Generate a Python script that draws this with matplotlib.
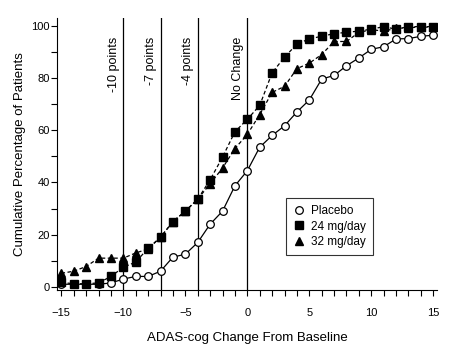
import matplotlib
matplotlib.use("Agg")
import matplotlib.pyplot as plt
import numpy as np

plt.rcParams['font.family'] = ['Liberation Sans', 'DejaVu Sans']

x = list(range(-15, 16))
placebo = [1, 1, 1, 1, 1.5, 3, 4, 4, 6, 11.4, 12.5, 17, 24, 29, 38.7, 44.5,
           53.5, 58, 61.7, 67, 71.6, 79.6, 81, 84.7, 87.7, 91, 92, 95, 95.1, 96, 96.4]
mg24 = [1.7, 1.2, 1.2, 1.5, 4, 7.5, 9.5, 14.8, 19, 25, 29, 33.6, 41, 49.7, 59.4, 64.2,
        69.5, 82, 88, 93, 95, 96, 97, 97.5, 98, 98.7, 99.7, 98.7, 99.7, 99.7, 99.7]
mg32 = [5.2, 6, 7.8, 11, 11, 11, 13, 14.5, 19, 25, 29, 33.6, 39.5, 45.5, 53, 58.4,
        66, 74.5, 76.8, 83.6, 85.7, 89, 94, 94, 97.5, 98.5, 98, 99, 99.3, 99.5, 99.5]

ref_lines = [-10, -7, -4, 0]
ref_labels = ['-10 points', '-7 points', '-4 points', 'No Change']

fig = plt.figure(figsize=(4.54, 3.5), dpi=100)
ax = fig.add_axes([57/454, 1-290/350, (437-57)/454, (290-18)/350])

for xv, lab in zip(ref_lines, ref_labels):
    ax.axvline(xv, color='black', lw=0.9, zorder=1)
    ax.text(xv - 0.3, 96, lab, rotation=90, ha='right', va='top', fontsize=9)

ax.plot(x, placebo, '-', color='black', lw=0.9, marker='o', ms=5.5,
        mfc='white', mec='black', mew=0.9, label='Placebo', zorder=3)
ax.plot(x, mg24, '--', color='black', lw=0.9, marker='s', ms=5.5,
        mfc='black', mec='black', dashes=(3, 2), label='24 mg/day', zorder=4)
ax.plot(x, mg32, '--', color='black', lw=0.9, marker='^', ms=6,
        mfc='black', mec='black', dashes=(3, 2), label='32 mg/day', zorder=4)

ax.set_xlim(-15.35, 15.3)
ax.set_ylim(-1.2, 103)
ax.set_xticks(range(-15, 16, 5))
ax.set_xticks(range(-15, 16), minor=True)
ax.set_yticks(range(0, 101, 20))
ax.set_yticks(range(0, 101, 10), minor=True)
ax.tick_params(which='both', direction='out', length=4, width=0.8, labelsize=8)
ax.tick_params(axis='x', which='major', pad=9)
ax.tick_params(axis='y', which='major', pad=1)
for s in ['top', 'right']:
    ax.spines[s].set_visible(False)
for s in ['left', 'bottom']:
    ax.spines[s].set_linewidth(0.8)

ax.set_xlabel('ADAS-cog Change From Baseline', fontsize=9.5, labelpad=10)
ax.set_ylabel('Cumulative Percentage of Patients', fontsize=9.5, labelpad=4)

leg = ax.legend(loc='upper left', bbox_to_anchor=(280/454, 1-192/350),
                bbox_transform=fig.transFigure, frameon=True, fancybox=False,
                edgecolor='black', fontsize=8.5, handlelength=1.0,
                handletextpad=0.5, borderpad=0.6, labelspacing=0.3)
leg.get_frame().set_linewidth(0.8)
for h in leg.get_lines():
    h.set_linestyle('none')

fig.savefig('out.png', dpi=100)
